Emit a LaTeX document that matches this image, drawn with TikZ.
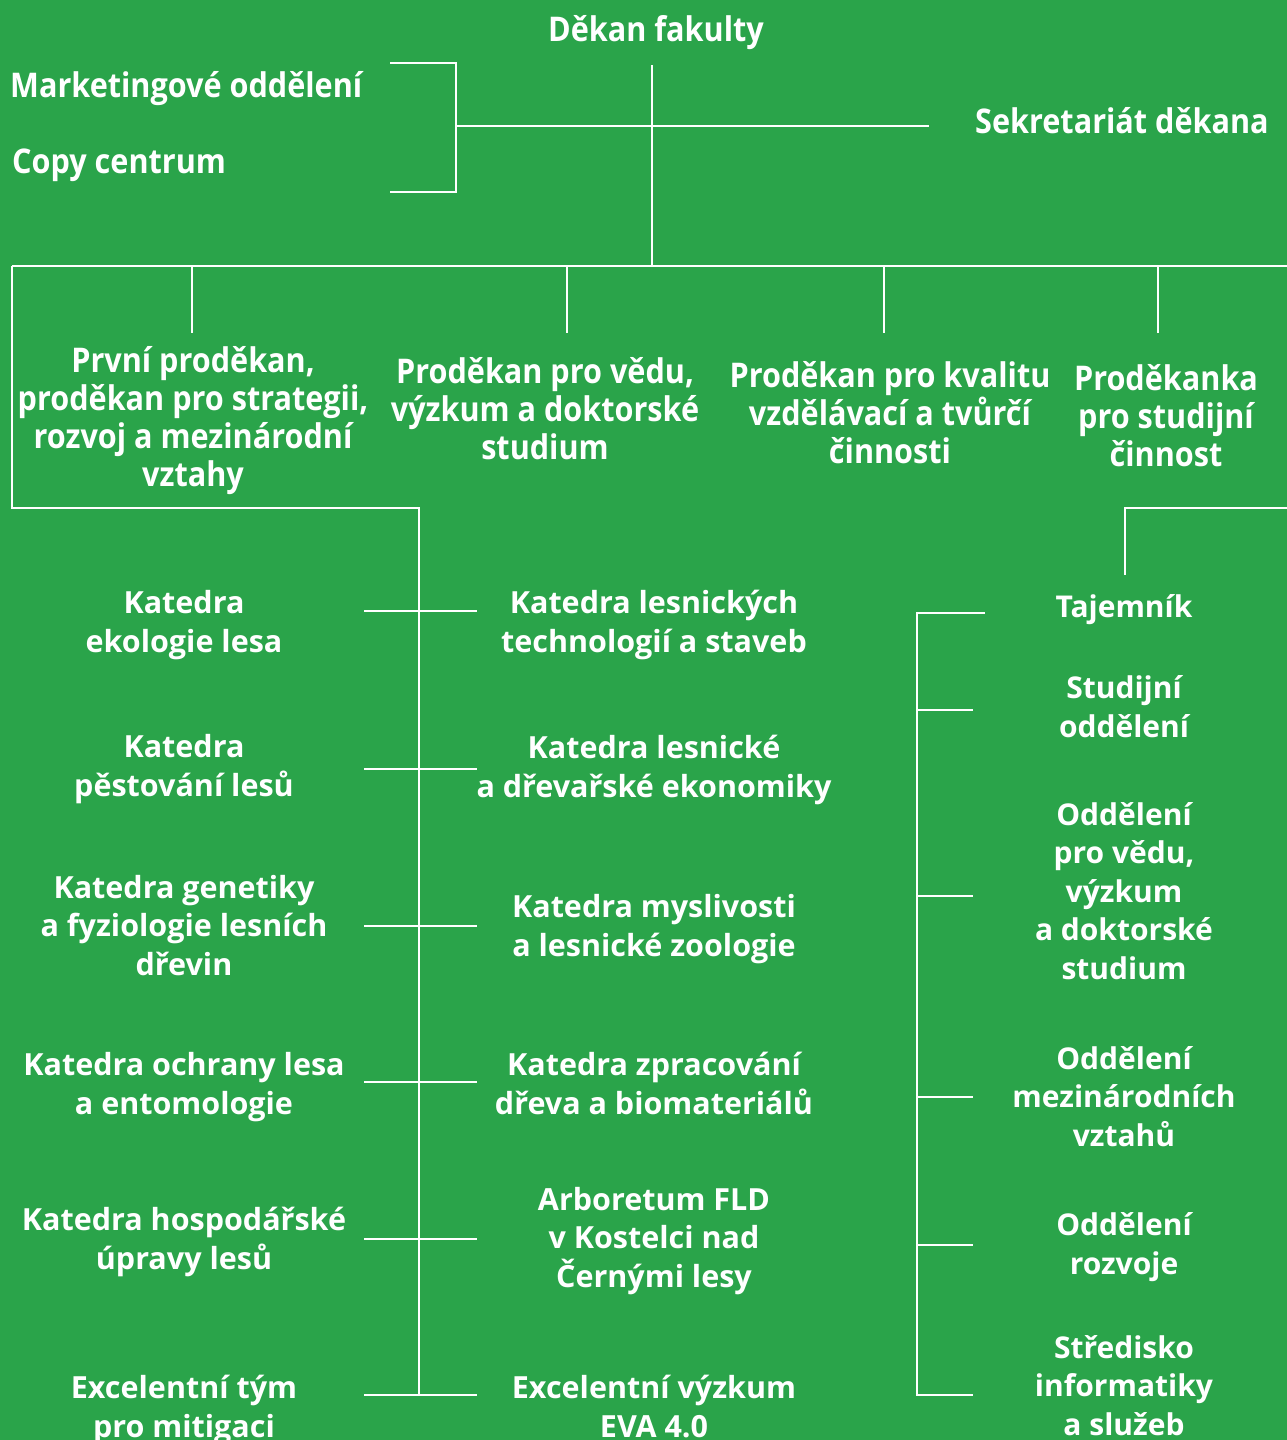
\documentclass[tikz,border=0pt]{standalone}
\usepackage{fontspec}
\setmainfont{Open Sans}
\newfontfamily\uzkypismo{Open Sans}[FakeStretch=0.9]
\usepackage{tikz}
\definecolor{fldzelena}{RGB}{42,164,74}

\begin{document}
\begin{tikzpicture}[%
    x=1pt,y=-1pt,
    cara/.style={draw=white,line width=2.5pt},
    horni/.style={
        text=white,inner sep=0pt,anchor=base,align=center,
        font=\uzkypismo\bfseries\fontsize{34}{38}\selectfont
      },
    dolni/.style={
        text=white,inner sep=0pt,anchor=base,align=center,
        font=\bfseries\fontsize{30.5}{38.5}\selectfont
      },
    pravy/.style={dolni,font=\bfseries\fontsize{30}{38.5}\selectfont}
  ]

  % 背景
  \fill[fldzelena] (0,0) rectangle (1287,1440);
  \useasboundingbox (0,0) rectangle (1287,1440);

  % děkan
  \node[horni] (dekan) at (656,41) {Děkan fakulty};
  \node[horni,anchor=base west] (marketing) at (10,97) {Marketingové oddělení};
  \node[horni,anchor=base west] (copy) at (12,173) {Copy centrum};
  \node[horni,anchor=base west] (sekretariat) at (975,133) {Sekretariát děkana};

  % 座標の定義
  \coordinate (dekan_top) at (652,65);
  \coordinate (dekan_bot) at (652,266);
  \coordinate (sek_end) at (929,126);
  \coordinate (zav_mid) at (456,126);
  \coordinate (zav_top) at (456,63);
  \coordinate (zav_bot) at (456,192);
  \coordinate (lev_top) at (12,266);
  \coordinate (prav_top) at (1287,266);

  \draw[cara] (dekan_top) -- (dekan_bot);
  \draw[cara] (zav_mid) -- (sek_end);
  \draw[cara] (zav_top -| 390,0) -- (zav_top) -- (zav_bot) -- (zav_bot -| 390,0);
  \draw[cara] (lev_top) -- (prav_top);

  % proděkani (base = poslední řádek)
  \node[horni] (pd1) at (193,486) {První proděkan,\\proděkan pro strategii,\\rozvoj a mezinárodní\\vztahy};
  \node[horni] (pd2) at (545,459) {Proděkan pro vědu,\\výzkum a doktorské\\studium};
  \node[horni] (pd3) at (890,463) {Proděkan pro kvalitu\\vzdělávací a tvůrčí\\činnosti};
  \node[horni] (pd4) at (1166,466) {Proděkanka\\pro studijní\\činnost};
  \foreach \x in {192,567,884,1158}
    \draw[cara] (\x,266) -- (\x,333);

  % katedry
  \coordinate (ramec_roh) at (12,508);
  \coordinate (pater_top) at (419,508);
  \coordinate (pater_bot) at (419,1395);
  \draw[cara] (lev_top) -- (ramec_roh) -- (pater_top) -- (pater_bot);
  \foreach \y in {611,769,926,1082,1239,1395}
    \draw[cara] (364,\y) -- (477,\y);

  \foreach \jm/\y/\txt in {
      k1/652/{Katedra\\ekologie lesa},
      k2/796/{Katedra\\pěstování lesů},
      k3/975/{Katedra genetiky\\a fyziologie lesních\\dřevin},
      k4/1114/{Katedra ochrany lesa\\a entomologie},
      k5/1269/{Katedra hospodářské\\úpravy lesů},
      k6/1437/{Excelentní tým\\pro mitigaci}}
    \node[dolni] (\jm) at (184,\y) {\txt};

  \foreach \jm/\y/\txt in {
      s1/652/{Katedra lesnických\\technologií a staveb},
      s2/797/{Katedra lesnické\\a dřevařské ekonomiky},
      s3/956/{Katedra myslivosti\\a lesnické zoologie},
      s4/1114/{Katedra zpracování\\dřeva a biomateriálů},
      s5/1287/{Arboretum FLD\\v Kostelci nad\\Černými lesy},
      s6/1437/{Excelentní výzkum\\EVA 4.0}}
    \node[dolni] (\jm) at (654,\y) {\txt};

  % tajemník a oddělení
  \coordinate (taj_top) at (1125,508);
  \coordinate (taj_bot) at (1125,575);
  \draw[cara] (1287,508) -- (taj_top) -- (taj_bot);
  \coordinate (odd_top) at (917,613);
  \coordinate (odd_bot) at (917,1395);
  \draw[cara] (985,613) -- (odd_top) -- (odd_bot) -- (973,1395);
  \foreach \y in {710,896,1097,1245}
    \draw[cara] (917,\y) -- (973,\y);

  \foreach \jm/\y/\txt in {
      o1/617/{Tajemník},
      o2/737/{Studijní\\oddělení},
      o3/979/{Oddělení\\pro vědu,\\výzkum\\a doktorské\\studium},
      o4/1146/{Oddělení\\mezinárodních\\vztahů},
      o5/1274/{Oddělení\\rozvoje},
      o6/1435/{Středisko\\informatiky\\a služeb}}
    \node[pravy] (\jm) at (1124,\y) {\txt};
\end{tikzpicture}
\end{document}
